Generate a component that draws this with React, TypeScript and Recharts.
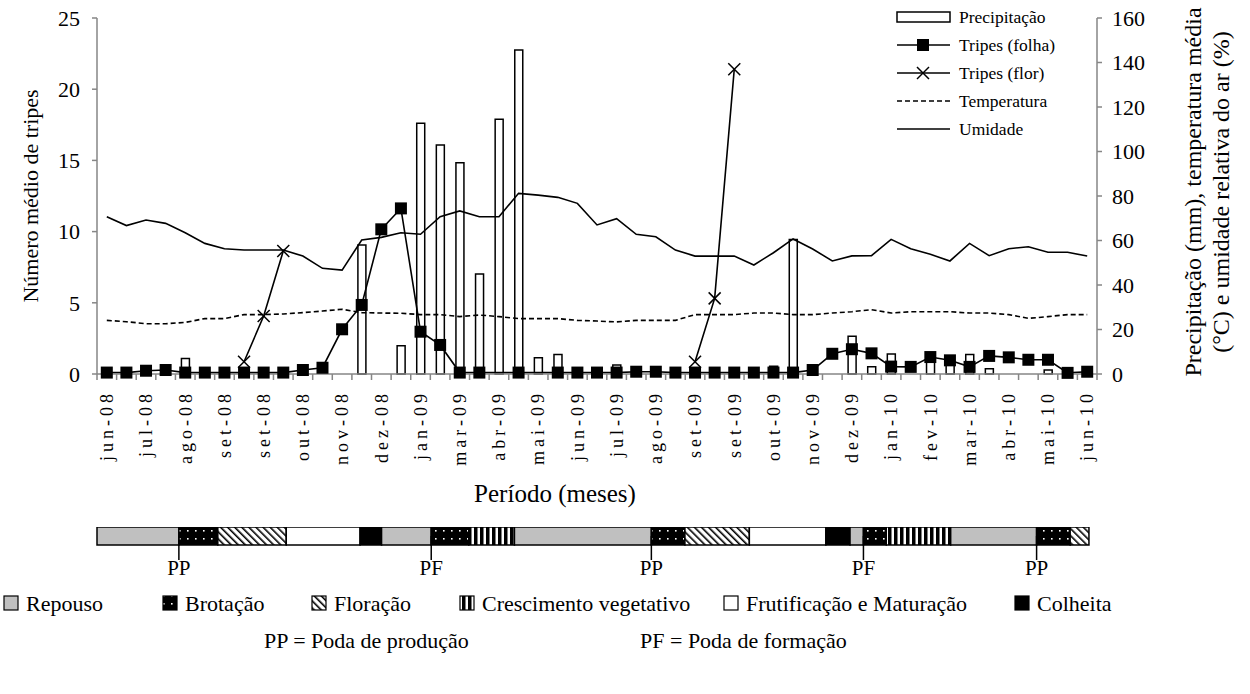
import { ComposedChart, BarChart, Bar, Line, XAxis, YAxis, ReferenceLine } from 'recharts';

const FONT = '"Liberation Serif", "Times New Roman", Times, serif';
const AXIS_COLOR = '#868686';
const TXT = { fontFamily: FONT, fill: '#000' };

// rótulos do eixo X (um a cada duas amostragens quinzenais)
const rotulos = ['jun-08', 'jul-08', 'ago-08', 'set-08', 'set-08', 'out-08', 'nov-08', 'dez-08', 'jan-09', 'mar-09', 'abr-09', 'mai-09', 'jun-09', 'jul-09', 'ago-09', 'set-09', 'set-09', 'out-09', 'nov-09', 'dez-09', 'jan-10', 'fev-10', 'mar-10', 'abr-10', 'mai-10', 'jun-10'];

// precipitação (mm) por quinzena
const precipitacao = [0, 0, 0, 0, 7, 0, 0, 0, 0, 0, 4, 0, 0, 58, 0, 12.7, 112.7, 102.9, 95, 45, 114.5, 145.6, 7.3, 8.8, 0, 0, 4, 0, 0, 0, 0, 0, 0, 0, 3.5, 60.5, 0, 0, 17, 3.3, 9, 0, 6, 4, 8.8, 2.4, 0, 0, 1.8, 0, 0];

// temperatura média (°C)
const temperatura = [24.1, 23.5, 22.6, 22.6, 23.2, 24.9, 24.9, 26.7, 26.7, 27, 27.6, 28.3, 29.1, 27.6, 27.4, 27.3, 26.7, 26.7, 25.8, 26.5, 25.8, 24.9, 24.9, 24.9, 24.1, 23.8, 23.4, 24.1, 24.1, 24.1, 26.7, 26.7, 26.7, 27.4, 27.4, 26.7, 26.7, 27.4, 28, 28.9, 27.4, 28, 28, 28, 27.4, 27.4, 26.7, 25, 25.8, 26.7, 26.7];

// umidade relativa do ar (%)
const umidade = [70.7, 66.7, 69.2, 67.7, 63.5, 58.7, 56.3, 55.7, 55.7, 55.7, 53, 47.5, 46.7, 60.2, 61.4, 63.5, 62.8, 70.7, 73.3, 70.7, 70.7, 81.2, 80.4, 79.4, 76.7, 67, 69.8, 62.8, 61.7, 55.7, 53, 53, 53, 49, 54.5, 60.7, 56.2, 50.8, 53.1, 53.2, 60.5, 56.3, 53.8, 50.8, 58.7, 53.2, 56.3, 57.2, 54.7, 54.7, 53];

// número médio de tripes na folha
const tripesFolha = [0.1, 0.1, 0.23, 0.28, 0.1, 0.1, 0.1, 0.1, 0.1, 0.1, 0.28, 0.44, 3.14, 4.85, 10.16, 11.63, 2.97, 2.04, 0.1, 0.1, null, 0.1, null, 0.1, 0.1, 0.1, 0.1, 0.16, 0.16, 0.1, 0.1, 0.1, 0.1, 0.1, 0.1, 0.1, 0.28, 1.42, 1.74, 1.45, 0.52, 0.5, 1.19, 0.96, 0.5, 1.27, 1.17, 1.0, 1.0, 0.08, 0.16];

// número médio de tripes na flor (só nas florações)
const tripesFlor = [null, null, null, null, null, null, null, 0.86, 4.07, 8.64, null, null, null, null, null, null, null, null, null, null, null, null, null, null, null, null, null, null, null, null, 0.86, 5.31, 21.4, null, null, null, null, null, null, null, null, null, null, null, null, null, null, null, null, null, null];

// fenologia (duração em dias)
const fases = ['Repouso', 'Brotação', 'Floração', 'Frutificação', 'Colheita', 'Repouso', 'Brotação', 'Crescimento vegetativo', 'Repouso', 'Brotação', 'Floração', 'Frutificação', 'Colheita', 'Repouso', 'Brotação', 'Crescimento vegetativo', 'Repouso', 'Brotação', 'Floração'];
const duracaoDias = [61, 29, 51, 55, 16, 37, 28, 34, 102, 25, 48, 57, 18, 10, 17, 48, 64, 25, 14];
const podas = [
  { dia: 61, tipo: 'PP' },
  { dia: 249, tipo: 'PF' },
  { dia: 413, tipo: 'PP' },
  { dia: 571, tipo: 'PF' },
  { dia: 700, tipo: 'PP' },
];
const legendaFases = ['Repouso', 'Brotação', 'Floração', 'Crescimento vegetativo', 'Frutificação e Maturação', 'Colheita'];

const FILL: Record<string, string> = {
  Repouso: '#c0c0c0',
  'Brotação': 'url(#p-brot)',
  'Floração': 'url(#p-flor)',
  'Crescimento vegetativo': 'url(#p-cresc)',
  'Frutificação': '#ffffff',
  'Frutificação e Maturação': '#ffffff',
  Colheita: '#000000',
};

const dados = precipitacao.map((p, i) => ({
  i,
  precipitacao: p,
  temperatura: temperatura[i],
  umidade: umidade[i],
  folha: tripesFolha[i],
  flor: tripesFlor[i],
}));

const N = precipitacao.length;
const marcas = Array.from({ length: N + 1 }, (_, k) => k - 0.5);
const posRotulos = rotulos.map((_, k) => k * 2);
const xTicks = [...marcas, ...posRotulos].sort((a, b) => a - b);

const linhaFenologia = [{ nome: 'fenologia', ...Object.fromEntries(duracaoDias.map((d, k) => [`s${k}`, d])) }];

const XTick = (props: any) => {
  const { x, y, payload } = props;
  const v = payload.value;
  if (Math.abs(v - Math.floor(v) - 0.5) < 1e-6) {
    return <line x1={x} x2={x} y1={y} y2={y + 6} stroke={AXIS_COLOR} strokeWidth={1.5} />;
  }
  const ty = y + 16;
  return (
    <text x={x} y={ty} dy="0.35em" transform={`rotate(-90 ${x} ${ty})`} textAnchor="end"
      fontSize={18} letterSpacing={4} style={TXT}>
      {rotulos[Math.round(v / 2)]}
    </text>
  );
};

const Quadrado = (p: any) => {
  if (p.cy == null || p.value == null) return <g key={`q-${p.index}`} />;
  return <rect key={`q-${p.index}`} x={p.cx - 6} y={p.cy - 6} width={12} height={12} fill="#000" />;
};

const Xis = (p: any) => {
  if (p.cy == null || p.value == null) return <g key={`x-${p.index}`} />;
  const { cx, cy } = p;
  return (
    <g key={`x-${p.index}`} stroke="#000" strokeWidth={1.5}>
      <line x1={cx - 6} y1={cy - 6} x2={cx + 6} y2={cy + 6} />
      <line x1={cx - 6} y1={cy + 6} x2={cx + 6} y2={cy - 6} />
    </g>
  );
};

const axisProps = {
  axisLine: { stroke: AXIS_COLOR, strokeWidth: 1.5 },
  tickLine: { stroke: AXIS_COLOR, strokeWidth: 1.5 },
  tick: { fontSize: 22, fill: '#000', fontFamily: FONT, style: TXT },
  tickSize: 5,
  width: 60,
  interval: 0 as const,
};

const legendaSerie = [
  { nome: 'Precipitação', y: 17 },
  { nome: 'Tripes (folha)', y: 45 },
  { nome: 'Tripes (flor)', y: 73 },
  { nome: 'Temperatura', y: 101 },
  { nome: 'Umidade', y: 129 },
];
const legendaFasesX = [4, 163, 312, 460, 724, 1015];

export default function App() {
  return (
    <div style={{ position: 'absolute', left: 0, top: 0, width: 1250, height: 694, background: '#fff', fontFamily: FONT }}>
      <svg width={0} height={0} style={{ position: 'absolute' }}>
        <defs>
          <pattern id="p-brot" patternUnits="userSpaceOnUse" width={8} height={8}>
            <rect width={8} height={8} fill="#000" />
            <rect x={3} y={3} width={1.6} height={1.6} fill="#fff" />
          </pattern>
          <pattern id="p-flor" patternUnits="userSpaceOnUse" width={5} height={5} patternTransform="rotate(-45)">
            <rect width={5} height={5} fill="#fff" />
            <rect x={0} y={0} width={1.6} height={5} fill="#000" />
          </pattern>
          <pattern id="p-cresc" patternUnits="userSpaceOnUse" width={6} height={6}>
            <rect width={6} height={6} fill="#fff" />
            <rect x={0} y={0} width={3.5} height={6} fill="#000" />
          </pattern>
        </defs>
      </svg>

      <div style={{ position: 'absolute', left: 0, top: 0 }}>
        <ComposedChart width={1250} height={480} data={dados} margin={{ top: 18, right: 93, bottom: 0, left: 37 }}>
          <XAxis dataKey="i" type="number" domain={[-0.5, 50.5]} ticks={xTicks} interval={0}
            tick={(p: any) => <XTick {...p} />} tickLine={false} tickSize={0} tickMargin={0}
            axisLine={{ stroke: AXIS_COLOR, strokeWidth: 1.5 }} height={106} allowDataOverflow />
          <YAxis yAxisId="esq" domain={[0, 25]} ticks={[0, 5, 10, 15, 20, 25]} tickMargin={12} {...axisProps} />
          <YAxis yAxisId="dir" orientation="right" domain={[0, 160]} ticks={[0, 20, 40, 60, 80, 100, 120, 140, 160]} tickMargin={10} {...axisProps} />
          <Bar yAxisId="dir" dataKey="precipitacao" barSize={8} fill="#fff" stroke="#000" strokeWidth={1.5} isAnimationActive={false} />
          <Line yAxisId="dir" dataKey="temperatura" stroke="#000" strokeWidth={1.6} strokeDasharray="5 3" dot={false} isAnimationActive={false} />
          <Line yAxisId="dir" dataKey="umidade" stroke="#000" strokeWidth={1.6} dot={false} isAnimationActive={false} />
          <Line yAxisId="esq" dataKey="folha" stroke="#000" strokeWidth={1.6} connectNulls dot={(p: any) => <Quadrado {...p} key={`q-${p.index}`} />} isAnimationActive={false} />
          <Line yAxisId="esq" dataKey="flor" stroke="#000" strokeWidth={1.6} dot={(p: any) => <Xis {...p} key={`x-${p.index}`} />} isAnimationActive={false} />
        </ComposedChart>
      </div>

      <div style={{ position: 'absolute', left: 0, top: 527 }}>
        <BarChart layout="vertical" width={1250} height={60} data={linhaFenologia} margin={{ top: 0, right: 153, bottom: 42, left: 97 }} barCategoryGap={0}>
          <XAxis type="number" domain={[0, 745]} hide />
          <YAxis type="category" dataKey="nome" hide />
          {fases.map((f, k) => (
            <Bar key={k} dataKey={`s${k}`} stackId="fen" fill={FILL[f]} stroke="#000" strokeWidth={1.5} isAnimationActive={false} />
          ))}
          {podas.map((p) => (
            <ReferenceLine key={p.dia} x={p.dia} ifOverflow="visible"
              shape={(s: any) => {
                const top = Math.min(s.y1, s.y2);
                const bot = Math.max(s.y1, s.y2);
                return (
                  <g>
                    <line x1={s.x1} x2={s.x1} y1={(top + bot) / 2} y2={bot + 15} stroke="#000" strokeWidth={1.5} />
                    <text x={s.x1} y={bot + 23} dy="0.35em" textAnchor="middle" fontSize={21} style={TXT}>{p.tipo}</text>
                  </g>
                );
              }} />
          ))}
        </BarChart>
      </div>

      <svg width={1250} height={694} style={{ position: 'absolute', left: 0, top: 0, pointerEvents: 'none' }}>
        {/* títulos dos eixos */}
        <text x={30} y={196} dy="0.35em" transform="rotate(-90 30 196)" textAnchor="middle" fontSize={22} style={TXT}>Número médio de tripes</text>
        <text x={1193} y={192} dy="0.35em" transform="rotate(-90 1193 192)" textAnchor="middle" fontSize={24} style={TXT}>Precipitação (mm), temperatura média</text>
        <text x={1221} y={192} dy="0.35em" transform="rotate(-90 1221 192)" textAnchor="middle" fontSize={24} style={TXT}>(°C) e umidade relativa do ar (%)</text>
        <text x={555} y={493} dy="0.35em" textAnchor="middle" fontSize={25} style={TXT}>Período (meses)</text>

        {/* legenda das séries */}
        {legendaSerie.map((l, k) => (
          <g key={l.nome}>
            {k === 0 && <rect x={897} y={l.y - 5} width={53} height={10} fill="#fff" stroke="#000" strokeWidth={1.5} />}
            {k === 1 && <g><line x1={897} x2={950} y1={l.y} y2={l.y} stroke="#000" strokeWidth={1.6} /><rect x={917} y={l.y - 6} width={12} height={12} fill="#000" /></g>}
            {k === 2 && <g stroke="#000" strokeWidth={1.5}><line x1={897} x2={950} y1={l.y} y2={l.y} /><line x1={917} y1={l.y - 6} x2={929} y2={l.y + 6} /><line x1={917} y1={l.y + 6} x2={929} y2={l.y - 6} /></g>}
            {k === 3 && <line x1={897} x2={950} y1={l.y} y2={l.y} stroke="#000" strokeWidth={1.6} strokeDasharray="5 3" />}
            {k === 4 && <line x1={897} x2={950} y1={l.y} y2={l.y} stroke="#000" strokeWidth={1.6} />}
            <text x={959} y={l.y} dy="0.35em" fontSize={17.5} style={TXT}>{l.nome}</text>
          </g>
        ))}

        {/* legenda da fenologia */}
        {legendaFases.map((f, k) => (
          <g key={f}>
            <rect x={legendaFasesX[k]} y={596} width={14} height={14} fill={FILL[f]} stroke="#000" strokeWidth={1.2} />
            <text x={legendaFasesX[k] + 22} y={603} dy="0.35em" fontSize={22} style={TXT}>{f}</text>
          </g>
        ))}
        <text x={264} y={640} dy="0.35em" fontSize={22} style={TXT}>PP = Poda de produção</text>
        <text x={640} y={640} dy="0.35em" fontSize={22} style={TXT}>PF = Poda de formação</text>
      </svg>
    </div>
  );
}
